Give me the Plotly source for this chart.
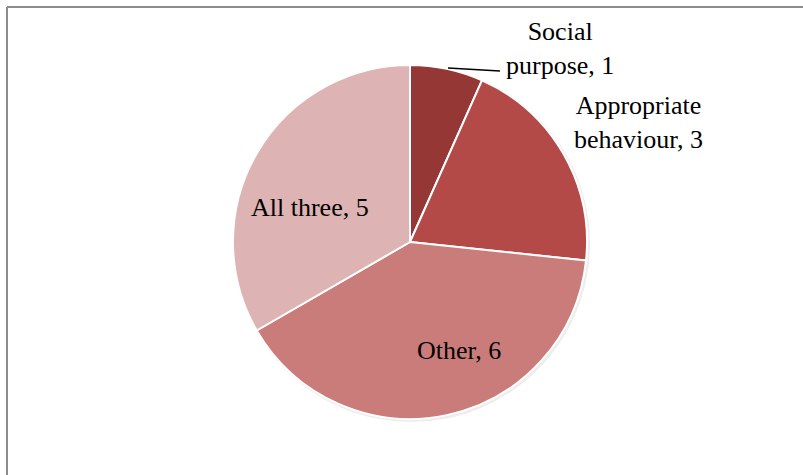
import plotly.graph_objects as go

categories = ["Social purpose", "Appropriate behaviour", "Other", "All three"]
values = [1, 3, 6, 5]
colors = ["#953735", "#B34A48", "#CA7C7B", "#DDB4B3"]

W, H = 803, 475
cx, cy, r = 410, 242, 177

def px(x):
    return x / W

def py(y):
    return 1 - y / H

fig = go.Figure()

# faint shadow
fig.add_trace(go.Pie(
    values=[1], labels=["shadow"], marker=dict(colors=["rgba(0,0,0,0.07)"], line=dict(width=0)),
    textinfo="none", hoverinfo="skip", sort=False, showlegend=False,
    domain=dict(x=[px(cx - r), px(cx + r + 3)], y=[py(cy + r + 3), py(cy - r)]),
))

fig.add_trace(go.Pie(
    labels=categories, values=values, sort=False, direction="clockwise", rotation=0,
    marker=dict(colors=colors, line=dict(color="white", width=2)),
    textinfo="none", showlegend=False,
    domain=dict(x=[px(cx - r), px(cx + r)], y=[py(cy + r), py(cy - r)]),
))

font = dict(family="Liberation Serif", size=26, color="black")
label_pos = [(560, 48), (638, 123), (459, 350), (310, 207)]
texts = [f"{c}, {v}" for c, v in zip(categories, values)]
texts[0] = "Social<br>purpose, " + str(values[0])
texts[1] = "Appropriate<br>behaviour, " + str(values[1])
for t, (x, y) in zip(texts, label_pos):
    fig.add_annotation(x=px(x), y=py(y), xref="paper", yref="paper", text=t, showarrow=False,
                       font=font, xanchor="center", yanchor="middle", align="center")

shapes = [
    dict(type="line", xref="paper", yref="paper", x0=px(448), y0=py(68), x1=px(500), y1=py(71),
         line=dict(color="black", width=1.3)),
    dict(type="line", xref="paper", yref="paper", x0=px(7), y0=py(7), x1=px(803), y1=py(7),
         line=dict(color="#8C8C8C", width=2)),
    dict(type="line", xref="paper", yref="paper", x0=px(7), y0=py(7), x1=px(7), y1=py(475),
         line=dict(color="#8C8C8C", width=2)),
]
fig.update_layout(
    width=W, height=H, margin=dict(l=0, r=0, t=0, b=0),
    paper_bgcolor="white", plot_bgcolor="white", shapes=shapes,
)
fig.write_html("out.html", config={"displayModeBar": False},
               post_script="document.body.style.margin='0';")
